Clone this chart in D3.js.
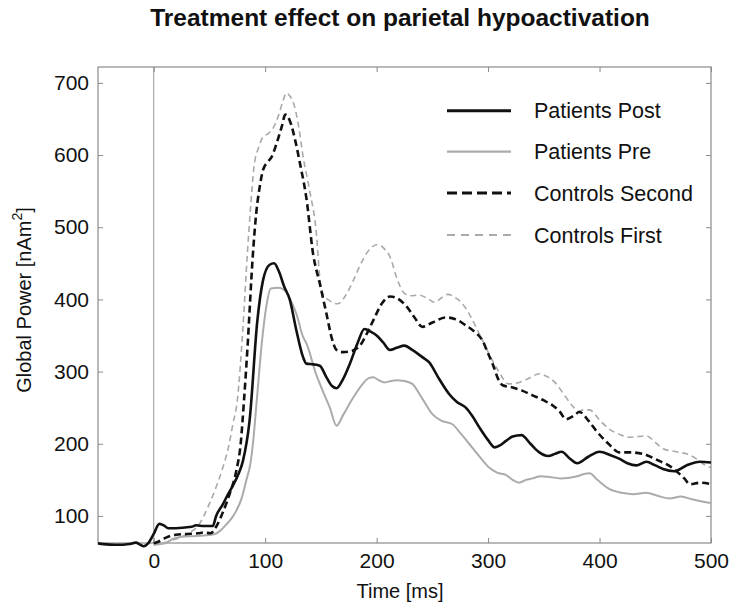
<!DOCTYPE html>
<html><head><meta charset="utf-8">
<script src="https://cdn.jsdelivr.net/npm/d3@7"></script>
<style>body{margin:0;background:#fff;font-family:"Liberation Sans",Arial,sans-serif;}</style>
</head><body><svg id="chart" width="739" height="608"></svg>
<script>
const title = "Treatment effect on parietal hypoactivation";
const xLabel = "Time [ms]";
const xTicks = [0,100,200,300,400,500];
const yTicks = [100,200,300,400,500,600,700];
const seriesNames = ["Patients Post","Patients Pre","Controls Second","Controls First"];

const postT = [-50,-45,-35,-28,-22,-16,-12,-9,-5,0,5,9,13,20,28,34,38,45,53,56,62,66,71,76,80,86,93,98,104,108,112,117,122,128,134,137,143,149,155,160,164,170,176,183,189,195,200,206,212,218,225,232,241,247,256,265,272,280,286,292,300,306,311,316,322,330,338,346,354,360,366,373,380,390,400,410,418,425,433,442,450,457,467,478,490,500];
const postV = [62,61,60,60,61,63,60,58,62,75,89,87,83,83,84,85,87,86,86,100,116,128,142,158,176,232,371,426,448,450,440,418,400,357,320,311,310,308,292,280,277,290,311,340,359,355,350,340,330,333,336,330,320,313,290,269,258,250,238,223,205,195,198,204,210,212,200,188,183,186,189,180,173,182,189,184,179,173,170,175,170,165,162,170,175,174];

const preT = [0,10,17,25,35,45,55,60,65,70,74,79,83,87,89,93,97,101,105,112,119,124,128,134,137,146,152,158,164,170,179,186,193,197,202,207,213,218,225,232,240,250,258,268,275,283,292,301,308,316,322,328,334,340,347,355,365,373,380,386,391,398,409,420,430,442,452,463,473,483,492,500];
const preV = [60,62,68,71,72,73,75,80,88,97,107,125,149,175,200,270,340,390,415,416,410,395,380,348,339,295,272,250,225,240,264,280,291,292,288,285,287,288,287,283,265,241,232,227,215,200,183,167,160,157,150,146,150,152,155,154,152,153,155,158,159,150,137,132,130,132,128,124,127,123,120,118];

const secT = [0,5,11,20,30,40,45,51,56,62,68,74,78,81,84,89,92,95,98,102,106,110,115,118,122,127,131,137,143,149,155,160,164,170,176,185,191,197,205,212,220,227,234,241,250,262,270,280,288,295,300,304,309,313,322,330,340,350,358,364,370,376,382,390,397,408,418,428,439,447,454,462,469,476,481,490,500];
const secV = [62,65,70,74,75,76,77,76,85,105,130,162,200,260,330,463,520,555,579,590,598,615,640,656,648,620,590,540,463,422,380,345,330,327,328,336,352,371,395,404,400,390,375,362,368,375,373,364,355,343,325,311,290,281,278,274,267,260,253,245,234,238,244,232,218,200,188,188,186,181,176,170,162,152,144,146,144];

const firstT = [0,10,20,30,41,50,56,62,67,71,75,80,84,87,90,94,98,103,107,112,116,119,122,125,130,134,140,146,149,151,158,165,172,179,186,193,201,207,212,218,224,230,238,245,252,258,264,270,277,283,289,296,303,310,318,328,337,346,353,360,365,370,376,381,386,391,400,409,418,427,435,442,450,457,465,472,478,486,493,500];
const firstV = [60,63,68,75,89,117,140,167,195,227,260,360,463,530,584,610,625,630,637,655,675,686,682,674,640,598,550,490,430,410,398,394,405,426,450,468,476,470,459,430,410,405,406,402,396,402,407,403,394,380,362,340,318,299,283,285,291,297,293,285,275,264,252,245,247,247,233,220,213,209,210,211,202,193,190,188,186,180,172,167];

const series = [
  {name:"Controls First", t:firstT, v:firstV, color:"#a9a9a9", width:1.6, dash:"6,4", legDash:"8,6"},
  {name:"Patients Pre", t:preT, v:preV, color:"#ababab", width:2, dash:null, legDash:null},
  {name:"Controls Second", t:secT, v:secV, color:"#111", width:2.6, dash:"7,4", legDash:"10,5"},
  {name:"Patients Post", t:postT, v:postV, color:"#111", width:2.6, dash:null, legDash:null}
];

const svg = d3.select("#chart");
const L=98, R=711, T=67, B=543;
const x = d3.scaleLinear().domain([-50,500]).range([L,R]);
const y = d3.scaleLinear().domain([62.5,722]).range([B,T]);
const axisColor = "#8a8a8a";
const FF = "Liberation Sans, Arial, sans-serif";

svg.append("rect").attr("x",L).attr("y",T).attr("width",R-L).attr("height",B-T)
  .attr("fill","none").attr("stroke",axisColor).attr("stroke-width",1.2);

svg.append("line").attr("x1",x(0)).attr("x2",x(0)).attr("y1",T).attr("y2",B)
  .attr("stroke","#999").attr("stroke-width",1);

const fs = "21px";
const gx = svg.append("g").attr("transform",`translate(0,${B})`)
  .call(d3.axisBottom(x).tickValues(xTicks).tickSize(-5).tickPadding(10));
const gxt = svg.append("g").attr("transform",`translate(0,${T})`)
  .call(d3.axisTop(x).tickValues(xTicks).tickSize(-5).tickFormat(""));
const gy = svg.append("g").attr("transform",`translate(${L},0)`)
  .call(d3.axisLeft(y).tickValues(yTicks).tickSize(-5).tickPadding(9));
const gyr = svg.append("g").attr("transform",`translate(${R},0)`)
  .call(d3.axisRight(y).tickValues(yTicks).tickSize(-5).tickFormat(""));
[gx,gxt,gy,gyr].forEach(g=>{
  g.select(".domain").remove();
  g.selectAll(".tick line").attr("stroke",axisColor);
  g.selectAll("text").attr("font-family",FF).attr("font-size",fs).attr("fill","#111");
});

const line = d3.line().curve(d3.curveMonotoneX);
series.forEach(s=>{
  const pts = s.t.map((t,i)=>[x(t),y(s.v[i])]);
  svg.append("path").attr("d",line(pts)).attr("fill","none")
    .attr("stroke",s.color).attr("stroke-width",s.width)
    .attr("stroke-dasharray",s.dash).attr("stroke-linejoin","round");
});

svg.append("text").attr("x",400).attr("y",26).attr("text-anchor","middle")
  .attr("font-family",FF).attr("font-weight","bold")
  .attr("font-size","24.5px").attr("fill","#111").text(title);

svg.append("text").attr("x",400).attr("y",598).attr("text-anchor","middle")
  .attr("font-family",FF).attr("font-size","20px").attr("fill","#111").text(xLabel);

const yl = svg.append("text").attr("transform","translate(31,300) rotate(-90)").attr("text-anchor","middle")
  .attr("font-family",FF).attr("font-size","20px").attr("fill","#111");
yl.append("tspan").text("Global Power [nAm");
yl.append("tspan").attr("dy",-9).attr("font-size","14px").text("2");
yl.append("tspan").attr("dy",9).text("]");

const legendOrder = ["Patients Post","Patients Pre","Controls Second","Controls First"];
const legendY = [110.7,151.7,193,235];
legendOrder.forEach((n,i)=>{
  const s = series.find(d=>d.name===n);
  svg.append("line").attr("x1",447).attr("x2",511).attr("y1",legendY[i]).attr("y2",legendY[i])
    .attr("stroke",s.color).attr("stroke-width",s.width+0.3).attr("stroke-dasharray",s.legDash);
  svg.append("text").attr("x",534).attr("y",legendY[i]).attr("dy","0.35em")
    .attr("font-family",FF).attr("font-size","21.5px").attr("fill","#111").text(n);
});
</script></body></html>
